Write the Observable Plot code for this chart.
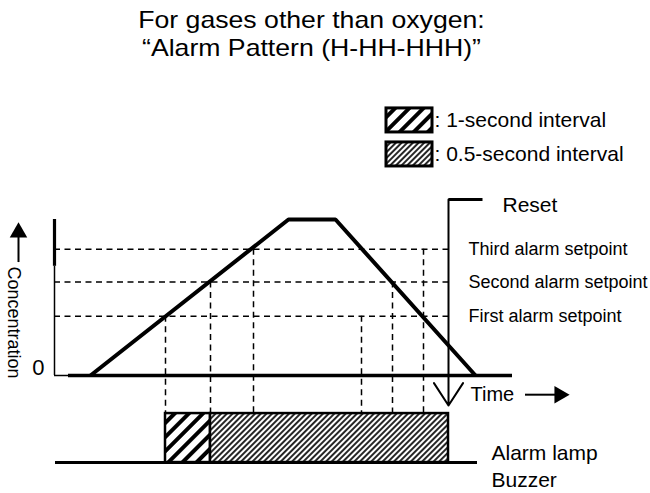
<!DOCTYPE html>
<html>
<head>
<meta charset="utf-8">
<script src="https://cdn.jsdelivr.net/npm/d3@7"></script>
<script src="https://cdn.jsdelivr.net/npm/@observablehq/plot@0.6"></script>
<style>
  html, body { margin: 0; padding: 0; background: #fff; }
  body { width: 650px; height: 493px; overflow: hidden; font-family: "Liberation Sans", Arial, sans-serif; }
  #title { width: 623px; height: 72px; box-sizing: border-box; padding-top: 6px; text-align: center;
           font-size: 24px; line-height: 28px; color: #000; }
  #title div { transform: scaleX(1.11); transform-origin: 50% 50%; white-space: nowrap; }
  #chart svg { display: block; }
</style>
</head>
<body>
<div id="title"><div>For gases other than oxygen:</div><div>“Alarm Pattern (H-HH-HHH)”</div></div>
<div id="chart"></div>
<script>
// ---- Data (time in s, concentration in % of peak) ----
const concentrationTime = [0, 19.8, 24.5, 38.5];
const concentrationValue = [0, 100, 100, 0];
const setpointLabels = ["First alarm setpoint", "Second alarm setpoint", "Third alarm setpoint"];
const setpointLevels = [38, 60, 81];
const risingCrossTime = [7.5, 12.0, 16.3];
const fallingCrossTime = [27.1, 30.2, 33.3];
const alarmLabels = ["1-second interval", "0.5-second interval"];
const alarmStart = [7.5, 12.0];
const alarmEnd = [12.0, 35.8];
const resetTime = 35.8;
const resetLabel = "Reset";
const outputLabels = ["Alarm lamp", "Buzzer"];

// ---- Layout (in scale units) ----
const axisT = -3.6, baseStart = -2.2, baseEnd = 42.2, dashEnd = 36.3;
const lampTop = -24.4, lampBottom = -55.8, lampLineStart = -3.5, lampLineEnd = 38.7;
const resetTop = 112.8, resetTip = -19.2, resetBarEnd = 39.2;
const labelT = 37.8;
const patterns = ["url(#hatchWide)", "url(#hatchFine)"];

const concRows = concentrationTime.map((t, i) => ({t, c: concentrationValue[i]}));
const setRows = setpointLevels.map((c, i) => ({c, label: setpointLabels[i]}));
const crossRows = [...risingCrossTime, ...fallingCrossTime].map((t, i) => ({t, c: setpointLevels[i % 3]}));
const alarmRows = alarmLabels.map((label, i) => ({label, x1: alarmStart[i], x2: alarmEnd[i], fill: patterns[i]}));
const legendRows = alarmLabels.map((label, i) => ({label, fill: patterns[i],
  y1: [171.2, 149.4][i], y2: [155.8, 134.0][i], ty: [163.5, 141.7][i]}));
const outputRows = outputLabels.map((label, i) => ({label, c: [-50, -67][i]}));

const dash = "6,4.5";
const plot = Plot.plot({
  width: 650, height: 421,
  marginTop: 0, marginRight: 0, marginBottom: 0, marginLeft: 0,
  x: {type: "linear", domain: [0, 56], range: [90, 650], axis: null},
  y: {type: "linear", domain: [0, 100], range: [303, 147], axis: null},
  style: {fontFamily: "'Liberation Sans', Arial, sans-serif", color: "#000", background: "#fff", overflow: "visible"},
  marks: [
    // setpoint dashed lines
    Plot.ruleY(setRows, {y: "c", x1: axisT, x2: dashEnd, stroke: "#000", strokeWidth: 1.5, strokeDasharray: dash}),
    // vertical dashed drop lines
    Plot.ruleX(crossRows, {x: "t", y1: "c", y2: lampTop, stroke: "#000", strokeWidth: 1.5, strokeDasharray: dash}),
    // alarm bars
    ...alarmRows.map(d => Plot.rect([d], {x1: "x1", x2: "x2", y1: lampTop, y2: lampBottom, fill: d.fill, stroke: "#000", strokeWidth: 2.5})),
    // lamp/buzzer base line
    Plot.ruleY([lampBottom], {x1: lampLineStart, x2: lampLineEnd, stroke: "#000", strokeWidth: 3}),
    // y axis
    Plot.ruleX([axisT], {y1: 0, y2: 70, stroke: "#000", strokeWidth: 1.5}),
    Plot.ruleX([axisT], {y1: 70, y2: 100, stroke: "#000", strokeWidth: 3.2}),
    Plot.ruleY([0], {x1: axisT, x2: baseStart, stroke: "#000", strokeWidth: 1.5}),
    // x baseline
    Plot.ruleY([0], {x1: baseStart, x2: baseEnd, stroke: "#000", strokeWidth: 3.5}),
    // concentration curve
    Plot.line(concRows, {x: "t", y: "c", stroke: "#000", strokeWidth: 4, strokeLinejoin: "miter", strokeLinecap: "butt"}),
    // reset
    Plot.line([{t: resetTime, c: resetTop}, {t: resetBarEnd, c: resetTop}], {x: "t", y: "c", stroke: "#000", strokeWidth: 3, strokeLinecap: "butt"}),
    Plot.arrow([resetTime], {x1: d => d, x2: d => d, y1: resetTop, y2: resetTip, stroke: "#000", strokeWidth: 2, headLength: 20, headAngle: 66}),
    Plot.text([resetLabel], {x: 41.2, y: 109, text: d => d, textAnchor: "start", fontSize: 21, lineAnchor: "middle"}),
    // setpoint labels
    Plot.text(setRows, {x: labelT, y: "c", text: "label", textAnchor: "start", fontSize: 18, lineAnchor: "middle"}),
    // time label and arrow
    Plot.text(["Time"], {x: 38, y: -12.5, text: d => d, textAnchor: "start", fontSize: 20, lineAnchor: "middle"}),
    Plot.ruleY([-12.3], {x1: 43.5, x2: 46.5, stroke: "#000", strokeWidth: 2}),
    Plot.dot([-12.3], {x: 46.9, y: d => d, symbol: "triangle", r: 6.5, fill: "#000", stroke: null, rotate: 90}),
    // concentration label and arrow
    Plot.ruleX([-7.2], {y1: 72.4, y2: 90, stroke: "#000", strokeWidth: 2}),
    Plot.dot([-7.2], {x: d => d, y: 91.7, symbol: "triangle", r: 6.5, fill: "#000", stroke: null}),
    Plot.text(["Concentration"], {x: -7.65, y: 34, text: d => d, rotate: 90, fontSize: 18}),
    Plot.text(["0"], {x: -4.6, y: 5, text: d => d, textAnchor: "end", fontSize: 22, lineAnchor: "middle"}),
    // outputs
    Plot.text(outputRows, {x: 40.1, y: "c", text: "label", textAnchor: "start", fontSize: 21, lineAnchor: "middle"}),
    // legend
    ...legendRows.map(d => Plot.rect([d], {x1: 29.6, x2: 34.2, y1: "y1", y2: "y2", fill: d.fill, stroke: "#000", strokeWidth: 3})),
    Plot.text(legendRows, {x: 34.4, y: "ty", text: d => ": " + d.label, textAnchor: "start", fontSize: 21, lineAnchor: "middle"})
  ]
});

const defs = d3.select(plot).insert("defs", ":first-child");
const p1 = defs.append("pattern").attr("id", "hatchWide").attr("patternUnits", "userSpaceOnUse")
  .attr("width", 10).attr("height", 10).attr("patternTransform", "rotate(45)");
p1.append("rect").attr("width", 10).attr("height", 10).attr("fill", "#fff");
p1.append("line").attr("x1", 5).attr("x2", 5).attr("y1", 0).attr("y2", 10).attr("stroke", "#000").attr("stroke-width", 4);
const p2 = defs.append("pattern").attr("id", "hatchFine").attr("patternUnits", "userSpaceOnUse")
  .attr("width", 4).attr("height", 4).attr("patternTransform", "rotate(45)");
p2.append("rect").attr("width", 4).attr("height", 4).attr("fill", "#fff");
p2.append("line").attr("x1", 2).attr("x2", 2).attr("y1", 0).attr("y2", 4).attr("stroke", "#000").attr("stroke-width", 1.7);

document.getElementById("chart").appendChild(plot);
</script>
</body>
</html>
